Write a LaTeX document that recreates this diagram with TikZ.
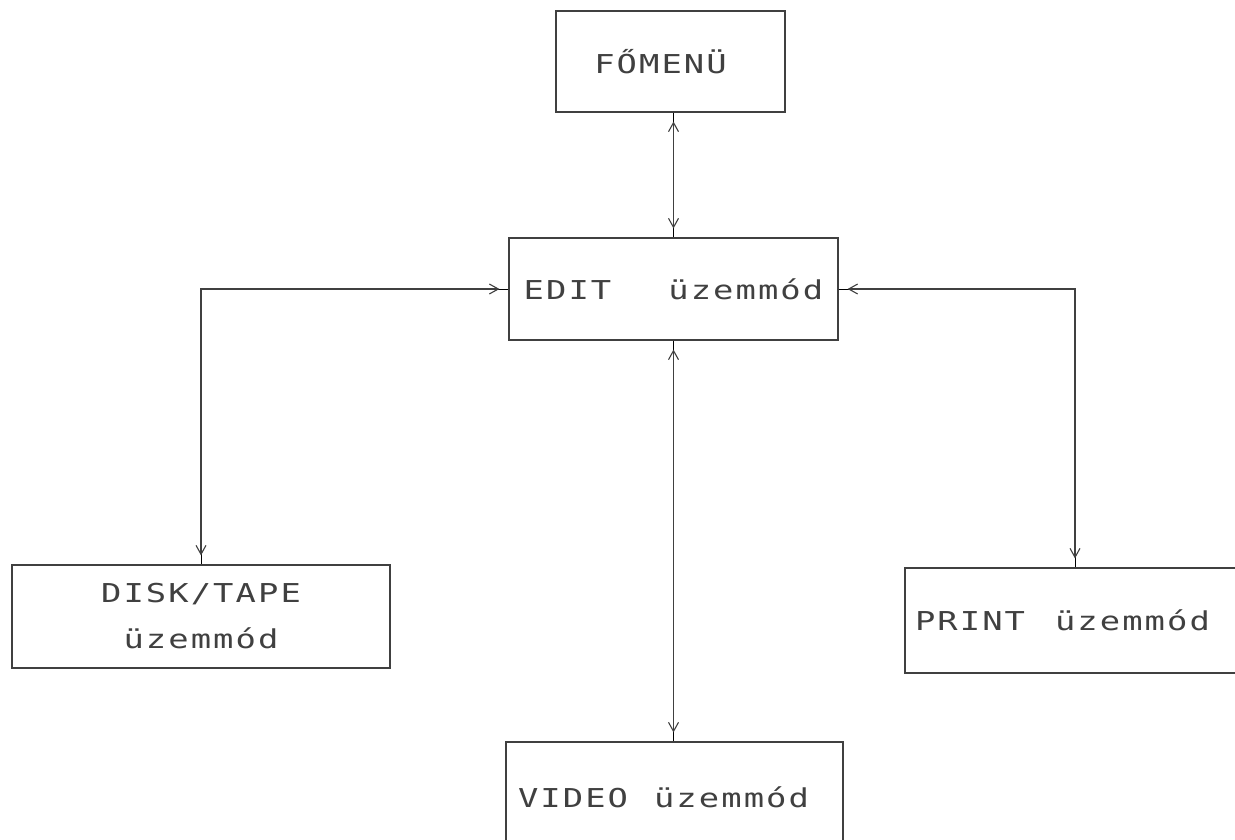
\documentclass[tikz,border=0pt]{standalone}
\usepackage{fontspec}
\newfontfamily\dotfont[FakeStretch=1.3, LetterSpace=8]{DejaVu Sans Mono}
\usetikzlibrary{arrows.meta}

\begin{document}
\begin{tikzpicture}[x=1pt, y=-1pt,
    every node/.style={font=\dotfont\fontsize{26}{46}\selectfont, text=black!75},
    modebox/.style={draw=black!75, line width=1.1pt, minimum height=102pt},
    link/.style={draw=black!75, line width=1.1pt, <->,
        >={Straight Barb[length=9pt, width=10pt]},
        shorten <=9pt, shorten >=9pt,
        preaction={draw, arrows=-, shorten <=0pt, shorten >=0pt}}]

\useasboundingbox (0,0) rectangle (1235,840);

% =============================================
% DOBOZOK
% =============================================
\node[modebox, minimum width=229pt, minimum height=101pt] (fomenu) at (670.5,61.5) {\hspace{-20pt}FŐMENÜ};
\node[modebox, minimum width=329pt] (edit) at (673.5,289) {EDIT\hspace{57pt}üzemmód};
\node[modebox, minimum width=378pt, minimum height=103pt, align=center] (disk) at (201,616.5) {DISK/TAPE\\üzemmód};
% jobb szélen kilóg a képből
\node[modebox, text width=320pt, inner xsep=10pt, minimum height=105pt, align=left] (print) at (1075,620.5) {PRINT\hspace{30pt}üzemmód};
\node[modebox, text width=313pt, inner xsep=12pt, minimum height=110pt, align=left] (video) at (674.5,797) {VIDEO\hspace{26pt}üzemmód};

% =============================================
% KAPCSOLATOK
% =============================================
\draw[link] (edit.north |- fomenu.south) -- (edit.north);
\draw[link] (edit.west) -| (disk.north);
\draw[link] (edit.east) -| (print.north);
\draw[link] (edit.south) -- (edit.south |- video.north);

\end{tikzpicture}
\end{document}
